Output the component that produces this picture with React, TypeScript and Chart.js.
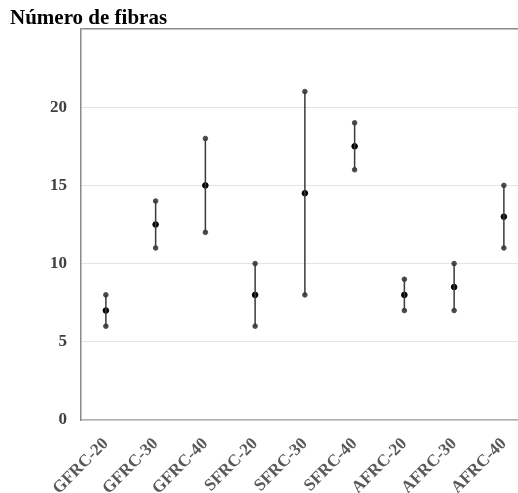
import React, { useEffect, useRef } from "react";
import { Chart, registerables } from "chart.js";

Chart.register(...registerables);

const categories = ["GFRC-20", "GFRC-30", "GFRC-40", "SFRC-20", "SFRC-30", "SFRC-40", "AFRC-20", "AFRC-30", "AFRC-40"];
const minValues = [6, 11, 12, 6, 8, 16, 7, 7, 11];
const midValues = [7, 12.5, 15, 8, 14.5, 17.5, 8, 8.5, 13];
const maxValues = [8, 14, 18, 10, 21, 19, 9, 10, 15];
const yTicks = [0, 5, 10, 15, 20, 25];
const titleText = "Número de fibras";

const SERIF = "'Liberation Serif', 'Times New Roman', serif";

export default function App() {
  const ref = useRef<HTMLCanvasElement | null>(null);

  useEffect(() => {
    if (!ref.current) return;
    const rangeData: any[] = [];
    categories.forEach((_, i) => {
      rangeData.push({ x: i, y: minValues[i] });
      rangeData.push({ x: i, y: maxValues[i] });
      rangeData.push({ x: i, y: null });
    });
    const chart = new Chart(ref.current, {
      type: "scatter",
      data: {
        datasets: [
          {
            type: "line",
            data: rangeData,
            borderColor: "#3a3a3a",
            borderWidth: 1.5,
            pointRadius: 0,
            spanGaps: false,
          } as any,
          {
            data: categories.map((_, i) => ({ x: i, y: minValues[i] })),
            backgroundColor: "#4a4a4a",
            borderColor: "#4a4a4a",
            pointRadius: 2.3,
          },
          {
            data: categories.map((_, i) => ({ x: i, y: maxValues[i] })),
            backgroundColor: "#4a4a4a",
            borderColor: "#4a4a4a",
            pointRadius: 2.3,
          },
          {
            data: categories.map((_, i) => ({ x: i, y: midValues[i] })),
            backgroundColor: "#000000",
            borderColor: "#000000",
            pointRadius: 2.8,
          },
        ],
      },
      options: {
        animation: false,
        responsive: true,
        maintainAspectRatio: false,
        layout: { autoPadding: false, padding: { left: 10, top: 0, right: 0, bottom: 0 } },
        plugins: {
          legend: { display: false },
          tooltip: { enabled: false },
          title: {
            display: true,
            text: titleText,
            align: "start",
            color: "#000000",
            font: { family: SERIF, size: 21, weight: "bold", lineHeight: 1 },
            padding: { top: 8, bottom: 0 },
          },
        },
        scales: {
          x: {
            type: "linear",
            min: -0.5,
            max: -0.5 + 437 / 49.75,
            afterBuildTicks: (scale: any) => {
              scale.ticks = categories.map((_, i) => ({ value: i }));
            },
            afterFit: (scale: any) => {
              scale.height = 73;
              scale.paddingLeft = 0;
              scale.paddingRight = 0;
            },
            grid: { display: false, drawTicks: false },
            border: { display: true, color: "#b0b0b0", width: 1.5 },
            ticks: {
              autoSkip: false,
              minRotation: 45,
              maxRotation: 45,
              padding: 14,
              color: "#595959",
              font: { family: SERIF, size: 17, weight: "bold" },
              callback: (v: any) => categories[Math.round(Number(v))] ?? "",
            },
          },
          y: {
            min: 0,
            max: 25,
            afterBuildTicks: (scale: any) => {
              scale.ticks = yTicks.map((v) => ({ value: v }));
            },
            afterFit: (scale: any) => {
              scale.width = 71;
              scale.paddingTop = 0;
              scale.paddingBottom = 0;
            },
            grid: {
              drawTicks: false,
              color: (ctx: any) => (ctx.tick && ctx.tick.value === 25 ? "#8a8a8a" : "#e4e4e4"),
              lineWidth: (ctx: any) => (ctx.tick && ctx.tick.value === 25 ? 1.5 : 1),
            },
            border: { display: true, color: "#8a8a8a", width: 1.5 },
            ticks: {
              padding: 14,
              color: "#404040",
              font: { family: SERIF, size: 17, weight: "bold" },
              callback: (v: any) => (Number(v) === 25 ? "" : String(v)),
            },
          },
        },
      } as any,
    });
    return () => chart.destroy();
  }, []);

  return (
    <div style={{ position: "fixed", left: 0, top: 0, width: 518, height: 493, background: "#fff" }}>
      <canvas ref={ref} />
    </div>
  );
}
